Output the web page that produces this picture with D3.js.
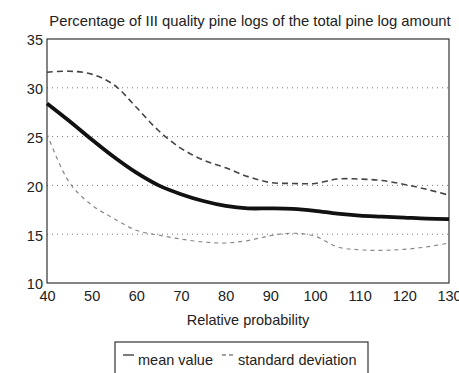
<!DOCTYPE html>
<html>
<head>
<meta charset="utf-8">
<script src="https://cdn.jsdelivr.net/npm/d3@7"></script>
<style>
  body { margin: 0; background: #fff; }
  svg text { font-family: "Liberation Sans", Arial, sans-serif; fill: #222; }
</style>
</head>
<body>
<svg id="chart" width="459" height="373"></svg>
<script>
// Relative probability (x)
const probability = [40, 45, 50, 55, 60, 65, 70, 75, 80, 85, 90, 95, 100, 105, 110, 115, 120, 125, 130];
// mean value
const meanValue = [28.4, 26.6, 24.7, 22.9, 21.3, 20.0, 19.1, 18.4, 17.9, 17.65, 17.65, 17.6, 17.4, 17.1, 16.9, 16.8, 16.7, 16.6, 16.55];
// upper standard deviation curve
const sdUpper = [31.6, 31.7, 31.4, 30.3, 28.0, 25.6, 23.8, 22.6, 21.8, 20.9, 20.3, 20.2, 20.2, 20.65, 20.65, 20.5, 20.1, 19.6, 19.0];
// lower standard deviation curve
const sdLower = [25.3, 20.3, 18.0, 16.6, 15.4, 14.9, 14.5, 14.2, 14.1, 14.35, 14.85, 15.1, 14.8, 13.7, 13.4, 13.35, 13.45, 13.7, 14.1];

const xTicks = [40, 50, 60, 70, 80, 90, 100, 110, 120, 130];
const yTicks = [10, 15, 20, 25, 30, 35];
const gridValues = [15, 20, 25, 30];

const margin = { top: 39, left: 47 };
const width = 402;
const height = 244;
const fontSize = "14.5px";

const svg = d3.select("#chart");
const g = svg.append("g")
  .attr("transform", "translate(" + margin.left + "," + margin.top + ")");

const x = d3.scaleLinear().domain([40, 130]).range([0, width]);
const y = d3.scaleLinear().domain([10, 35]).range([height, 0]);

// dotted grid
g.selectAll(".grid")
  .data(gridValues)
  .enter()
  .append("line")
  .attr("x1", 0)
  .attr("x2", width)
  .attr("y1", d => y(d))
  .attr("y2", d => y(d))
  .attr("stroke", "#777")
  .attr("stroke-width", 1)
  .attr("stroke-dasharray", "1,4");

// axes (labels only, frame drawn separately)
const xAxis = g.append("g")
  .attr("transform", "translate(0," + height + ")")
  .call(d3.axisBottom(x).tickValues(xTicks).tickSize(0).tickPadding(8));
const yAxis = g.append("g")
  .call(d3.axisLeft(y).tickValues(yTicks).tickSize(0).tickPadding(4));
[xAxis, yAxis].forEach(a => {
  a.select(".domain").remove();
  a.selectAll("text")
    .style("font-family", "'Liberation Sans', Arial, sans-serif")
    .style("font-size", fontSize)
    .attr("fill", "#222");
});
yAxis.selectAll("text").attr("dy", "0.4em");

// frame
g.append("rect")
  .attr("x", 0).attr("y", 0)
  .attr("width", width).attr("height", height)
  .attr("fill", "none")
  .attr("stroke", "#333")
  .attr("stroke-width", 1.2);

const line = d3.line()
  .x((d, i) => x(probability[i]))
  .y(d => y(d))
  .curve(d3.curveCatmullRom.alpha(0.5));

g.append("path")
  .datum(sdLower)
  .attr("d", line)
  .attr("fill", "none")
  .attr("stroke", "#888")
  .attr("stroke-width", 1.2)
  .attr("stroke-dasharray", "4,4");

g.append("path")
  .datum(sdUpper)
  .attr("d", line)
  .attr("fill", "none")
  .attr("stroke", "#444")
  .attr("stroke-width", 1.6)
  .attr("stroke-dasharray", "6,4");

g.append("path")
  .datum(meanValue)
  .attr("d", line)
  .attr("fill", "none")
  .attr("stroke", "#111")
  .attr("stroke-width", 3.8);

// title
svg.append("text")
  .attr("x", margin.left + width / 2 + 2)
  .attr("y", 26)
  .attr("text-anchor", "middle")
  .style("font-size", "14.8px")
  .text("Percentage of III quality pine logs of the total pine log amount");

// x label
svg.append("text")
  .attr("x", margin.left + width / 2)
  .attr("y", 325)
  .attr("text-anchor", "middle")
  .style("font-size", fontSize)
  .text("Relative probability");

// legend
const legend = svg.append("g");
legend.append("rect")
  .attr("x", 115).attr("y", 342)
  .attr("width", 253).attr("height", 40)
  .attr("fill", "#fff")
  .attr("stroke", "#333")
  .attr("stroke-width", 1.2);
legend.append("line")
  .attr("x1", 123).attr("x2", 134)
  .attr("y1", 355).attr("y2", 355)
  .attr("stroke", "#222").attr("stroke-width", 1.2);
legend.append("text")
  .attr("x", 213).attr("y", 365)
  .attr("text-anchor", "end")
  .style("font-size", fontSize)
  .text("mean value");
legend.append("line")
  .attr("x1", 222).attr("x2", 236)
  .attr("y1", 355).attr("y2", 355)
  .attr("stroke", "#444").attr("stroke-width", 1.2)
  .attr("stroke-dasharray", "4,3");
legend.append("text")
  .attr("x", 238).attr("y", 365)
  .style("font-size", fontSize)
  .text("standard deviation");
</script>
</body>
</html>
